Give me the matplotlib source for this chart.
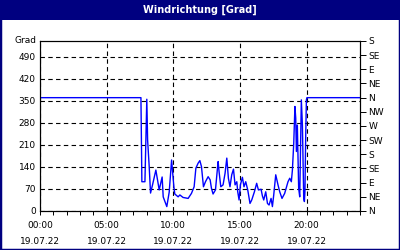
import matplotlib
matplotlib.use('Agg')
import matplotlib.pyplot as plt
from matplotlib.patches import Rectangle

# wind direction readings of 19.07.22 (hours since midnight, degrees)
hours = [0.0, 7.57, 7.60, 7.64, 7.87, 8.01, 8.07, 8.19, 8.29, 8.44, 8.69, 8.94,
         9.16, 9.24, 9.51, 9.69, 9.87, 10.04, 10.11, 10.36, 10.49, 10.73, 11.11,
         11.36, 11.56, 11.69, 11.86, 11.99, 12.11, 12.26, 12.41, 12.61, 12.76,
         12.86, 12.98, 13.16, 13.31, 13.36, 13.43, 13.56, 13.73, 13.88, 14.01,
         14.13, 14.25, 14.38, 14.51, 14.63, 14.76, 14.83, 14.93, 15.03, 15.18,
         15.30, 15.43, 15.58, 15.75, 15.88, 16.08, 16.25, 16.38, 16.58, 16.68,
         16.78, 16.93, 17.06, 17.18, 17.33, 17.43, 17.53, 17.68, 17.85, 17.98,
         18.15, 18.35, 18.60, 18.73, 18.85, 18.93, 19.03, 19.12, 19.18, 19.23,
         19.30, 19.40, 19.48, 19.60, 19.68, 19.78, 19.83, 19.87, 19.93, 19.98,
         20.02, 24.0]
wind_dir = [360, 360, 250, 93, 93, 355, 226, 141, 57, 83, 130, 67,
            108, 45, 14, 60, 162, 77, 54, 45, 51, 43, 40,
            56, 77, 136, 152, 160, 141, 77, 93, 109, 99,
            72, 54, 67, 136, 157, 125, 77, 83, 120, 168,
            104, 77, 115, 133, 83, 93, 61, 35, 83, 107,
            77, 93, 67, 24, 35, 61, 88, 67, 69, 48,
            35, 61, 24, 19, 40, 14, 51, 115, 83, 61,
            40, 56, 93, 104, 93, 130, 215, 332, 295, 189,
            273, 72, 45, 353, 273, 40, 30, 61, 242, 353,
            360, 360]

left_ticks = [0, 70, 140, 210, 280, 350, 420, 490]
compass = ['N', 'NE', 'E', 'SE', 'S', 'SW', 'W', 'NW',
           'N', 'NE', 'E', 'SE', 'S']
hour_ticks = [0, 5, 10, 15, 20]
date_label = '19.07.22'

navy = '#000080'
fs = 6.5

fig = plt.figure(figsize=(4, 2.5), dpi=100)
fig.patch.set_facecolor('white')

# title bar and frame
fig.patches.append(Rectangle((0, 0.92), 1, 0.08, transform=fig.transFigure,
                             facecolor=navy, edgecolor='none', zorder=0))
fig.patches.append(Rectangle((0, 0), 1, 1, transform=fig.transFigure,
                             facecolor='none', edgecolor=navy, linewidth=2.5, zorder=5))
fig.text(0.5, 0.962, 'Windrichtung [Grad]', color='white', fontsize=7,
         fontweight='bold', ha='center', va='center')

ax = fig.add_axes([0.1, 0.156, 0.8, 0.68])
ax.plot(hours, wind_dir, color='#0000ff', linewidth=1.0, zorder=3)

ax.set_xlim(0, 24)
ax.set_ylim(0, 540)

ax.set_yticks(left_ticks)
ax.set_yticklabels([str(t) for t in left_ticks], fontsize=fs)
ax.tick_params(axis='y', length=0, pad=3)
ax.text(-0.01, 1.0, 'Grad', transform=ax.transAxes, ha='right', va='center',
        fontsize=fs)

ax.set_xticks(hour_ticks)
ax.set_xticklabels([f'{h:02d}:00\n{date_label}' for h in hour_ticks],
                   fontsize=fs, linespacing=2.05)
ax.set_xticks(range(0, 25), minor=True)
ax.tick_params(axis='x', which='both', direction='out', length=3, width=0.7, pad=4)

ax.grid(True, color='black', linestyle=(0, (4, 3)), linewidth=0.8)

for sp in ax.spines.values():
    sp.set_linewidth(0.8)

ax2 = ax.twinx()
ax2.set_ylim(0, 540)
ax2.set_yticks(range(0, 541, 45))
ax2.set_yticklabels(compass, fontsize=fs)
ax2.tick_params(axis='y', length=4, width=0.7, pad=2)

fig.savefig('out.png', dpi=100, facecolor='white')
